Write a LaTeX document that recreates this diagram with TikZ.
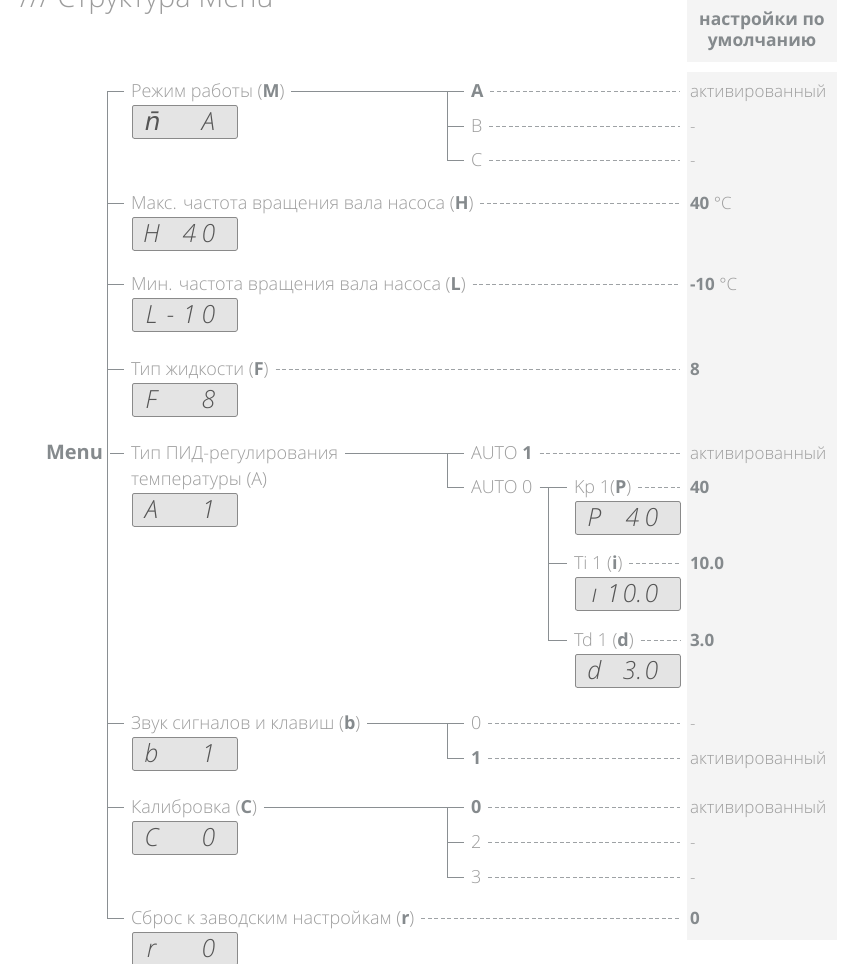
\documentclass[tikz,border=0pt]{standalone}
\usepackage{fontspec}
\setmainfont{Open Sans Light}[BoldFont=Open Sans Bold]
\newfontfamily\lcdfont{Open Sans Light Italic}
\newfontfamily\lcdalt{DejaVu Sans}[FakeSlant=0.2]
\usetikzlibrary{positioning}
\definecolor{Ink}{HTML}{9C9C9C}
\definecolor{InkBold}{HTML}{858A8D}
\definecolor{Wire}{HTML}{8A8F92}
\definecolor{Dots}{HTML}{9EA2A5}
\definecolor{Column}{HTML}{F4F4F4}
\definecolor{LcdFill}{HTML}{E4E4E4}
\definecolor{LcdEdge}{HTML}{8A8A8A}
\definecolor{LcdInk}{HTML}{555555}
\newcommand{\keyv}[1]{{\bfseries\color{InkBold}#1}}
\newcommand{\lcdtxt}[4]{\makebox[19pt]{#1}\makebox[19pt]{#2}\makebox[19pt]{#3}\makebox[19pt]{#4}\hspace*{10pt}}
\tikzset{
 lbl/.style={anchor=west,inner sep=0pt,outer xsep=7pt,text height=12.8pt,text depth=0pt,text=Ink,font=\fontsize{18}{22}\selectfont},
 val/.style={lbl,outer xsep=10pt,text height=12pt,font=\fontsize{17}{21}\selectfont},
 lcd/.style={anchor=north west,xshift=8pt,draw=LcdEdge,line width=.8pt,fill=LcdFill,rounded corners=2pt,minimum width=105pt,minimum height=33pt,inner sep=0pt,text height=18pt,text depth=0pt,text=LcdInk,font=\lcdfont\fontsize{25}{25}\selectfont},
 wire/.style={draw=Wire,line width=1pt},
 dots/.style={draw=Dots,line width=.8pt,dash pattern=on 4pt off 2.5pt}
}

\begin{document}
\begin{tikzpicture}[x=1pt,y=-1pt]
\path[use as bounding box,clip] (0,0) rectangle (841,964);
\fill[Column] (687,0) rectangle (837,62);
\fill[Column] (687,72) rectangle (837,940);
\node[anchor=base west,inner sep=0pt,text=Ink,font=\fontsize{29}{31}\selectfont] (title) at (20,7) {/// Структура Menu};
\node[align=center,text=InkBold,font=\bfseries\fontsize{17.5}{21}\selectfont] (head) at (762,31) {настройки по\\умолчанию};
\coordinate (spine) at (107,0);
\coordinate (j1) at (447,0);
\coordinate (j3) at (548,0);
\coordinate (vx) at (680,0);
% main entries
\node[lbl] (mode) at (124,91) {Режим работы (\keyv{M})};
\node[below=14pt of mode.west,lcd] (modeD) {\lcdtxt{\lcdalt n̄}{}{}{A}};
\node[lbl] (maxf) at (124,203) {Макс. частота вращения вала насоса (\keyv{H})};
\node[below=14pt of maxf.west,lcd] (maxfD) {\lcdtxt{H}{}{4}{0}};
\node[lbl] (minf) at (124,284) {Мин. частота вращения вала насоса (\keyv{L})};
\node[below=14pt of minf.west,lcd] (minfD) {\lcdtxt{L}{-}{1}{0}};
\node[lbl] (fluid) at (124,369) {Тип жидкости (\keyv{F})};
\node[below=14pt of fluid.west,lcd] (fluidD) {\lcdtxt{F}{}{}{8}};
\node[lbl] (pid) at (124,453) {Тип ПИД-регулирования};
\node[lbl,below=26pt of pid.west,anchor=west] (pid2) {температуры (A)};
\node[below=14pt of pid2.west,lcd] (pidD) {\lcdtxt{A}{}{}{1}};
\node[lbl] (sound) at (124,723) {Звук сигналов и клавиш (\keyv{b})};
\node[below=14pt of sound.west,lcd] (soundD) {\lcdtxt{b}{}{}{1}};
\node[lbl] (calib) at (124,807) {Калибровка (\keyv{C})};
\node[below=14pt of calib.west,lcd] (calibD) {\lcdtxt{C}{}{}{0}};
\node[lbl] (reset) at (124,918) {Сброс к заводским настройкам (\keyv{r})};
\node[below=14pt of reset.west,lcd] (resetD) {\lcdtxt{r}{}{}{0}};
\node[lbl,anchor=east,text=InkBold,font=\bfseries\fontsize{20}{24}\selectfont] (menu) at (110,453) {Menu};
% options
\node[lbl] (optA) at (464,91) {\keyv{A}};
\node[lbl] (optB) at (464,126) {B};
\node[lbl] (optC) at (464,160) {C};
\node[lbl] (auto1) at (464,453) {AUTO \keyv{1}};
\node[lbl] (auto0) at (464,487) {AUTO 0};
\node[lbl] (kp) at (567,487) {Kp 1(\keyv{P})};
\node[below=14pt of kp.west,lcd] (kpD) {\lcdtxt{P}{}{4}{0}};
\node[lbl] (ti) at (567,563) {Ti 1 (\keyv{i})};
\node[below=14pt of ti.west,lcd] (tiD) {\lcdtxt{ı}{1}{0.}{0}};
\node[lbl] (td) at (567,640) {Td 1 (\keyv{d})};
\node[below=14pt of td.west,lcd] (tdD) {\lcdtxt{d}{}{3.}{0}};
\node[lbl] (s0) at (464,723) {0};
\node[lbl] (s1) at (464,758) {\keyv{1}};
\node[lbl] (c0) at (464,807) {\keyv{0}};
\node[lbl] (c2) at (464,842) {2};
\node[lbl] (c3) at (464,877) {3};
% default values
\node[val] (vA) at (optA -| vx) {активированный};
\node[val] (vB) at (optB -| vx) {-};
\node[val] (vC) at (optC -| vx) {-};
\node[val] (vH) at (maxf -| vx) {\keyv{40} °C};
\node[val] (vL) at (minf -| vx) {\keyv{-10} °C};
\node[val] (vF) at (fluid -| vx) {\keyv{8}};
\node[val] (vAuto) at (auto1 -| vx) {активированный};
\node[val] (vP) at (kp -| vx) {\keyv{40}};
\node[val] (vI) at (ti -| vx) {\keyv{10.0}};
\node[val] (vD) at (td -| vx) {\keyv{3.0}};
\node[val] (vS0) at (s0 -| vx) {-};
\node[val] (vS1) at (s1 -| vx) {активированный};
\node[val] (vC0) at (c0 -| vx) {активированный};
\node[val] (vC2) at (c2 -| vx) {-};
\node[val] (vC3) at (c3 -| vx) {-};
\node[val] (vR) at (reset -| vx) {\keyv{0}};
% tree
\draw[wire] (mode.west) -| (reset.west -| spine) -- (reset.west);
\foreach \a in {maxf,minf,fluid,sound,calib} \draw[wire] (\a.west -| spine) -- (\a.west);
\foreach \a/\b in {mode/optA,pid/auto1,auto0/kp,sound/s0,calib/c0,menu/pid} \draw[wire] (\a.east) -- (\b.west);
\foreach \j/\a/\b in {j1/optA/optC,j1/auto1/auto0,j3/kp/td,j1/s0/s1,j1/c0/c3} \draw[wire] (\a.west -| \j) |- (\b.west);
\foreach \j/\a in {j1/optB,j3/ti,j1/c2} \draw[wire] (\a.west -| \j) -- (\a.west);
\foreach \a/\b in {optA/vA,optB/vB,optC/vC,maxf/vH,minf/vL,fluid/vF,auto1/vAuto,kp/vP,ti/vI,td/vD,s0/vS0,s1/vS1,c0/vC0,c2/vC2,c3/vC3,reset/vR} \draw[dots] (\a.east) -- (\b.west);
\end{tikzpicture}
\end{document}
